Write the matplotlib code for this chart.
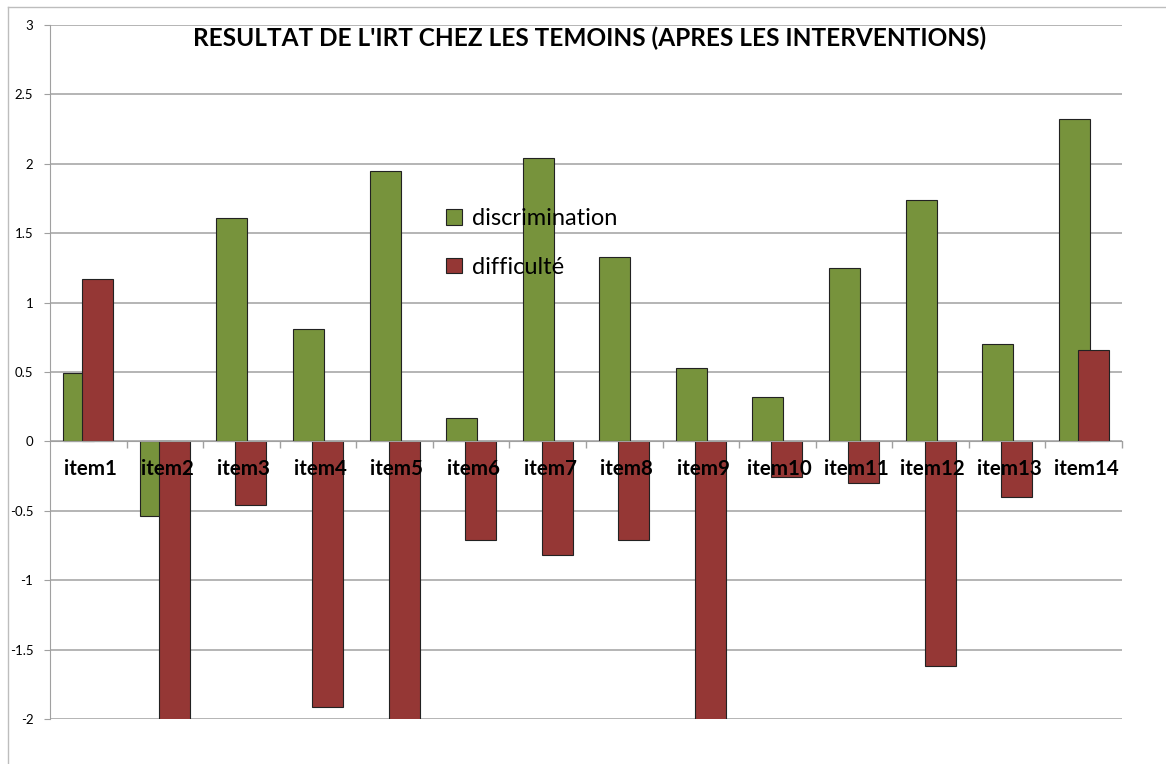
import matplotlib.pyplot as plt
import numpy as np
from matplotlib.transforms import offset_copy
from matplotlib.lines import Line2D

plt.rcParams['font.family'] = ['Lato', 'DejaVu Sans']

items = ['item1', 'item2', 'item3', 'item4', 'item5', 'item6', 'item7',
         'item8', 'item9', 'item10', 'item11', 'item12', 'item13', 'item14']
discrimination = [0.49, -0.54, 1.61, 0.81, 1.95, 0.17, 2.04,
                  1.33, 0.53, 0.32, 1.25, 1.74, 0.70, 2.32]
difficulte = [1.17, -2.2, -0.46, -1.91, -2.2, -0.71, -0.82,
              -0.71, -2.2, -0.26, -0.30, -1.62, -0.40, 0.66]

green = '#77933C'
red = '#953735'
grey = '#a0a0a0'

fig = plt.figure(figsize=(11.66, 7.64), dpi=100)
ax = fig.add_axes([50 / 1166, 1 - 719 / 764, 1072 / 1166, 694 / 764])

x = np.arange(len(items))
w = 0.405
off = 0.124
ax.bar(x - off, discrimination, w, color=green, edgecolor='#222222', linewidth=0.8,
       label='discrimination', zorder=2)
ax.bar(x + off, difficulte, w, color=red, edgecolor='#222222', linewidth=0.8,
       label='difficulté', zorder=3)

ax.set_xlim(-0.5, len(items) - 0.5)
ax.set_ylim(-2, 3)
ax.set_yticks(np.arange(-2, 3.01, 0.5))
ax.set_yticklabels(['-2', '-1.5', '-1', '-0.5', '0', '0.5', '1', '1.5', '2', '2.5', '3'])
ax.tick_params(axis='y', direction='out', length=4, color=grey, labelsize=9.5, pad=8)
ax.yaxis.grid(True, color=grey, linewidth=1.1, zorder=0)
ax.set_axisbelow(True)

ax.set_xticks(np.arange(0.5, len(items) - 0.4, 1))
ax.set_xticklabels([])
ax.tick_params(axis='x', direction='out', length=5, color=grey, width=1)
ax.spines['bottom'].set_position(('data', 0))
ax.spines['bottom'].set_color(grey)
ax.spines['bottom'].set_zorder(4)
ax.spines['left'].set_color(grey)
ax.spines['top'].set_visible(False)
ax.spines['right'].set_visible(False)

trans = offset_copy(ax.transData, fig=fig, x=0, y=-28, units='dots')
for i, name in enumerate(items):
    ax.text(i + 0.03, 0, name, transform=trans, ha='center', va='center',
            fontsize=14.8, fontweight='bold', zorder=5)

fig.text(590 / 1166, 1 - 38 / 764, "RESULTAT DE L'IRT CHEZ LES TEMOINS (APRES LES INTERVENTIONS)",
         ha='center', va='center', fontsize=17.6, fontweight='bold')

ax.legend(loc='upper left', bbox_to_anchor=(425 / 1166, 1 - 187 / 764),
          bbox_transform=fig.transFigure, frameon=False, fontsize=17,
          handlelength=0.65, handleheight=0.65, handletextpad=0.45, labelspacing=1.17)

# outer chart border
fig.add_artist(Line2D([8 / 1166, 8 / 1166], [0, 1 - 7 / 764], transform=fig.transFigure,
                      color='#bdbdbd', linewidth=1))
fig.add_artist(Line2D([8 / 1166, 1], [1 - 7 / 764, 1 - 7 / 764], transform=fig.transFigure,
                      color='#bdbdbd', linewidth=1))

fig.savefig('out.png', dpi=100)
